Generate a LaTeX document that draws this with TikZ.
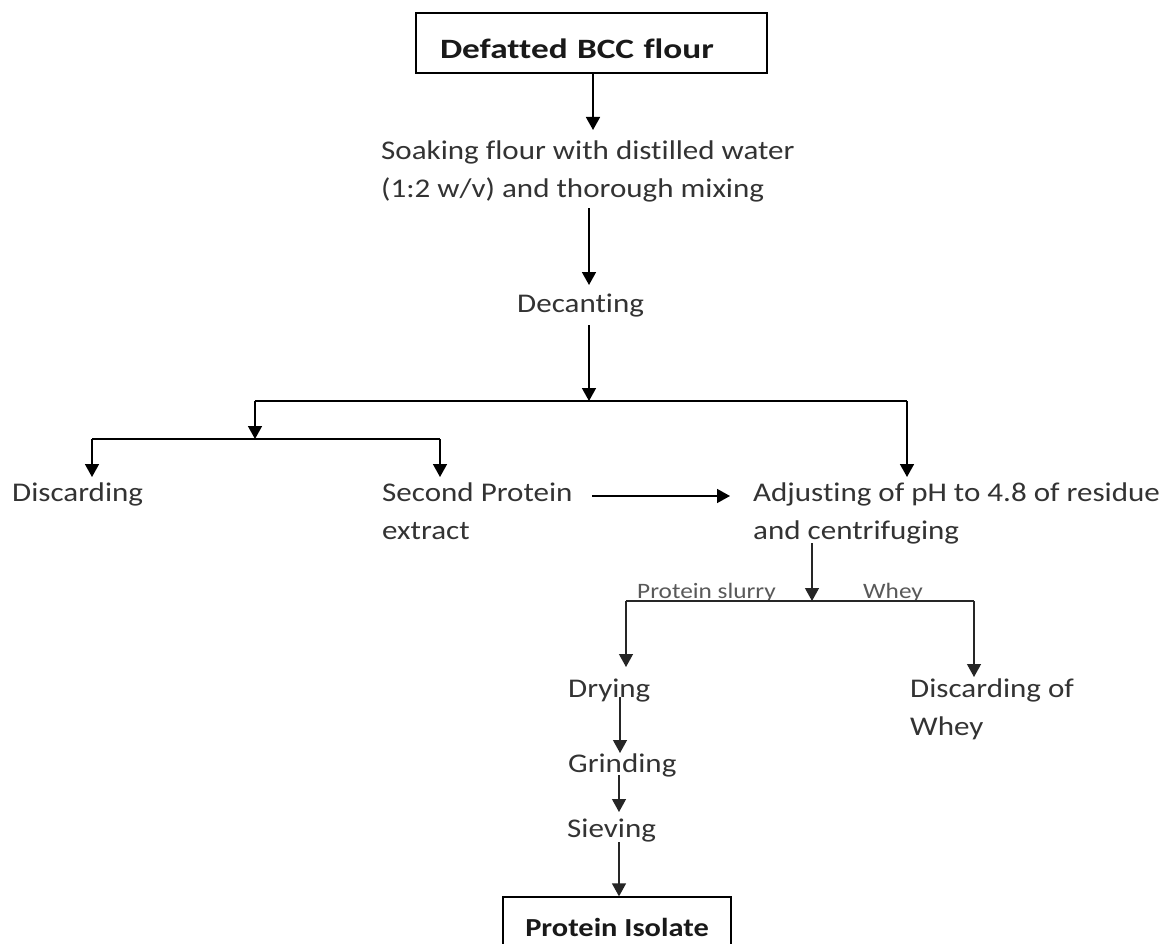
\documentclass[tikz,border=0pt]{standalone}
\usepackage{fontspec}
\setmainfont{Carlito}
\newfontfamily\regfont[FakeStretch=1.15,Ligatures={NoCommon}]{Carlito}
\newfontfamily\topfont[FakeStretch=1.26,Ligatures={NoCommon}]{Carlito}
\newfontfamily\isofont[FakeStretch=1.17,Ligatures={NoCommon}]{Carlito}
\usetikzlibrary{arrows.meta}
\begin{document}
\begin{tikzpicture}[x=1pt,y=-1pt,
  txt/.style={anchor=base west, inner sep=0pt, align=left, text=black!80,
    font=\regfont\fontsize{27}{38}\selectfont},
  small/.style={anchor=base west, inner sep=0pt, text=black!65,
    font=\regfont\fontsize{22}{26}\selectfont},
  ln/.style={line width=1.6pt, black},
  lnl/.style={line width=1.3pt, black!85},
  arr/.style={ln, -{Triangle[width=14pt,length=13pt]}},
  arrl/.style={lnl, -{Triangle[width=14pt,length=13pt]}},
  boxnode/.style={draw, line width=1.3pt, text=black!90}]
\fill[white] (0,0) rectangle (1161,944);
\useasboundingbox (0,0) rectangle (1161,944);
\clip (0,0) rectangle (1161,944);

% nodes (multi-line nodes: base = baseline of last line)
\node[boxnode, minimum width=351pt, minimum height=60pt, text width=303pt,
  inner xsep=24pt, align=left, text height=32pt, text depth=0pt,
  font=\topfont\bfseries\fontsize{28}{34}\selectfont] (top) at (591.5,43) {Defatted BCC flour};
\node[txt] (soak) at (381,197) {Soaking flour with distilled water\\(1:2 w/v) and thorough mixing};
\node[txt] (dec) at (517,312) {Decanting};
\node[txt] (disc) at (12,501) {Discarding};
\node[txt] (sec) at (382,539) {Second Protein\\extract};
\node[txt] (adj) at (753,539) {Adjusting of pH to 4.8 of residue\\and centrifuging};
\node[small] (slurry) at (637,598) {Protein slurry};
\node[small] (whey) at (863,598) {Whey};
\node[txt] (dry) at (568,697) {Drying};
\node[txt] (dwhey) at (910,735) {Discarding of\\Whey};
\node[txt] (grind) at (568,772) {Grinding};
\node[txt] (siev) at (567,837) {Sieving};
\node[boxnode, minimum width=228pt, minimum height=60pt,
  font=\isofont\bfseries\fontsize{26}{32}\selectfont] (iso) at (617,927) {Protein Isolate};

% junction coordinates
\coordinate (j1) at (589,401);
\coordinate (j1l) at (255,401);
\coordinate (j1r) at (907,401);
\coordinate (j2) at (255,439);
\coordinate (j2l) at (92,439);
\coordinate (j2r) at (440,439);
\coordinate (j3) at (812,601);
\coordinate (j3l) at (626,601);
\coordinate (j3r) at (974,601);

% connectors
\draw[arr] (top.south -| 593,0) -- (593,130);
\draw[arr] (589,208) -- (589,285);
\draw[arr] (589,325) -- (j1);
\draw[ln] (j1l) -- (j1r);
\draw[arr] (j1l) -- (j2);
\draw[ln] (j2l) -- (j2r);
\draw[arr] (j2l) -- (92,477);
\draw[arr] (j2r) -- (440,477);
\draw[arr] (j1r) -- (907,477);
\draw[arr] (592,496) -- (730,496);
\draw[arrl] (812,543) -- (j3);
\draw[lnl] (j3l) -- (j3r);
\draw[arrl] (j3l) -- (626,667);
\draw[arrl] (j3r) -- (974,677);
\draw[arrl] (620,697) -- (620,753);
\draw[arrl] (619,775) -- (619,812);
\draw[arrl] (619,842) -- (iso.north -| 619,0);
\end{tikzpicture}
\end{document}
